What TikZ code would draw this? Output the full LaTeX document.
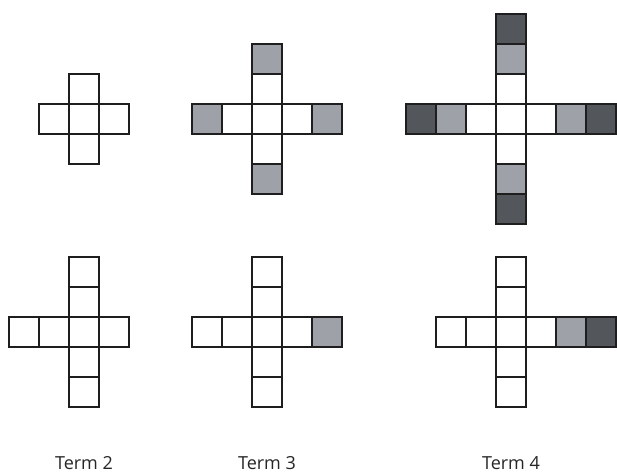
\documentclass[tikz,border=0pt]{standalone}
\usepackage{fontspec}
\setmainfont{Open Sans}
\definecolor{lightg}{HTML}{9EA2A8}
\definecolor{darkg}{HTML}{53575C}
\definecolor{edge}{HTML}{1E1E1E}
\tikzset{
  cellbox/.style={draw=edge, line width=1.6pt, fill=white},
  termlabel/.style={anchor=base, font=\fontsize{18}{21}\selectfont, text=black!85}
}
% #1 = x of left edge, #2 = y of top edge (pixels, y downward), #3 = fill
\newcommand\cellat[3]{\draw[cellbox, fill=#3] (#1,#2) rectangle ++(30,30);}
\begin{document}
\begin{tikzpicture}[x=1pt, y=-1pt]
\useasboundingbox (0,0) rectangle (617,473);
% ---------- top row ----------
% Term 2
\foreach \y in {74,104,134} {\cellat{69}{\y}{white}}
\foreach \x in {39,99} {\cellat{\x}{104}{white}}
% Term 3
\foreach \y in {74,104,134} {\cellat{252}{\y}{white}}
\foreach \y in {44,164} {\cellat{252}{\y}{lightg}}
\foreach \x in {222,282} {\cellat{\x}{104}{white}}
\foreach \x in {192,312} {\cellat{\x}{104}{lightg}}
% Term 4
\foreach \y in {74,104,134} {\cellat{496}{\y}{white}}
\foreach \y in {44,164} {\cellat{496}{\y}{lightg}}
\foreach \y in {14,194} {\cellat{496}{\y}{darkg}}
\foreach \x in {466,526} {\cellat{\x}{104}{white}}
\foreach \x in {436,556} {\cellat{\x}{104}{lightg}}
\foreach \x in {406,586} {\cellat{\x}{104}{darkg}}
% ---------- bottom row ----------
% Term 2
\foreach \y in {257,287,317,347,377} {\cellat{69}{\y}{white}}
\foreach \x in {9,39,99} {\cellat{\x}{317}{white}}
% Term 3
\foreach \y in {257,287,317,347,377} {\cellat{252}{\y}{white}}
\foreach \x in {192,222,282} {\cellat{\x}{317}{white}}
\cellat{312}{317}{lightg}
% Term 4
\foreach \y in {257,287,317,347,377} {\cellat{496}{\y}{white}}
\foreach \x in {436,466,526} {\cellat{\x}{317}{white}}
\cellat{556}{317}{lightg}
\cellat{586}{317}{darkg}
% ---------- labels ----------
\node[termlabel] (t2) at (84,469) {Term 2};
\node[termlabel] (t3) at (267,469) {Term 3};
\node[termlabel] (t4) at (511,469) {Term 4};
\end{tikzpicture}
\end{document}
